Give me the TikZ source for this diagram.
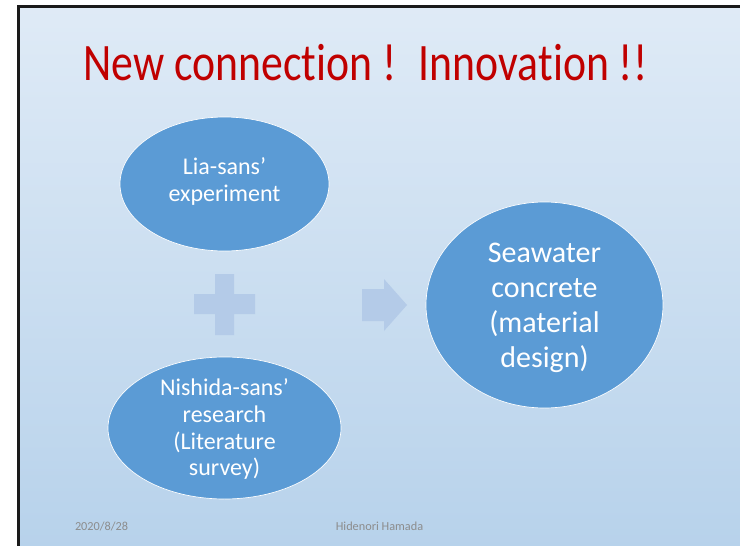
\documentclass[tikz,border=0pt]{standalone}
\usepackage{fontspec}
\setmainfont[Ligatures=NoCommon]{Carlito}
\newfontfamily\titlefont[Ligatures=NoCommon, FakeStretch=0.83]{Carlito}
\usetikzlibrary{shapes.geometric}
\definecolor{titlered}{HTML}{C00000}
\definecolor{bubble}{HTML}{5B9BD5}
\definecolor{ghost}{HTML}{B4CBE8}
\definecolor{footgray}{HTML}{8C8C8C}
\definecolor{bgtop}{HTML}{F3F7FC}
\definecolor{bgmid}{HTML}{B4D0EA}
\definecolor{bgbot}{HTML}{C8DCF0}
\definecolor{frame}{HTML}{1A1A1A}
\pgfdeclareverticalshading{slidebg}{100bp}{color(0bp)=(bgbot); color(21bp)=(bgmid); color(100bp)=(bgtop)}
\begin{document}
\begin{tikzpicture}[x=0.75pt,y=-0.75pt,
  bubblenode/.style={ellipse, fill=bubble, draw=white, line width=0.5pt, inner sep=0pt},
  bubbletext/.style={inner sep=0pt, align=center, text=white},
  smalltext/.style={font=\fontsize{18}{20}\selectfont},
  bigtext/.style={font=\fontsize{22.5}{26.2}\selectfont},
  footer/.style={text=footgray, font=\fontsize{9.2}{11}\selectfont, inner sep=0pt},
  ghostshape/.style={fill=ghost, draw=none}]
  \useasboundingbox (0,0) rectangle (740,546);
  \fill[white] (0,0) rectangle (740,546);
  % slide background
  \shade[shading=slidebg] (18,6) rectangle (740,546);
  % slide frame (top and left edges)
  \draw[frame, line width=1.8pt] (18.5,546) -- (18.5,6.5) -- (740,6.5);

  % title
  \node[anchor=base west, inner sep=0pt, text=titlered,
        font=\titlefont\fontsize{39.5}{46}\selectfont] (title) at (83,80)
        {New connection !\hspace{17pt}Innovation !!};

  % bubbles (sizes in pt)
  \node[bubblenode, minimum width=156.75pt, minimum height=100.5pt] (lia) at (224.5,184) {};
  \node[bubblenode, minimum width=174.75pt, minimum height=106.5pt] (nishida) at (224.5,428) {};
  \node[bubblenode, minimum width=177.75pt, minimum height=154.5pt] (sea) at (544.5,305) {};

  \node[bubbletext, smalltext] (liatext) at ([yshift=1.9pt]lia.center)
        {Lia-sans’\\experiment};
  \node[bubbletext, smalltext] (nishidatext) at ([yshift=-1.1pt]nishida.center)
        {Nishida-sans’\\research\\(Literature\\survey)};
  \node[bubbletext, bigtext] (seatext) at ([yshift=-1.9pt]sea.center)
        {Seawater\\concrete\\(material\\design)};

  % plus sign
  \fill[ghostshape] (215,274) -- (234,274) -- (234,294) -- (255,294) -- (255,314)
        -- (234,314) -- (234,335) -- (215,335) -- (215,314) -- (194,314)
        -- (194,294) -- (215,294) -- cycle;
  % block arrow
  \fill[ghostshape] (362,289) -- (384,289) -- (384,279) -- (407,305) -- (384,331)
        -- (384,321) -- (362,321) -- cycle;

  % footer
  \node[footer] (date) at (101.5,526) {2020/8/28};
  \node[footer] (author) at (379.5,526) {Hidenori Hamada};
\end{tikzpicture}
\end{document}
